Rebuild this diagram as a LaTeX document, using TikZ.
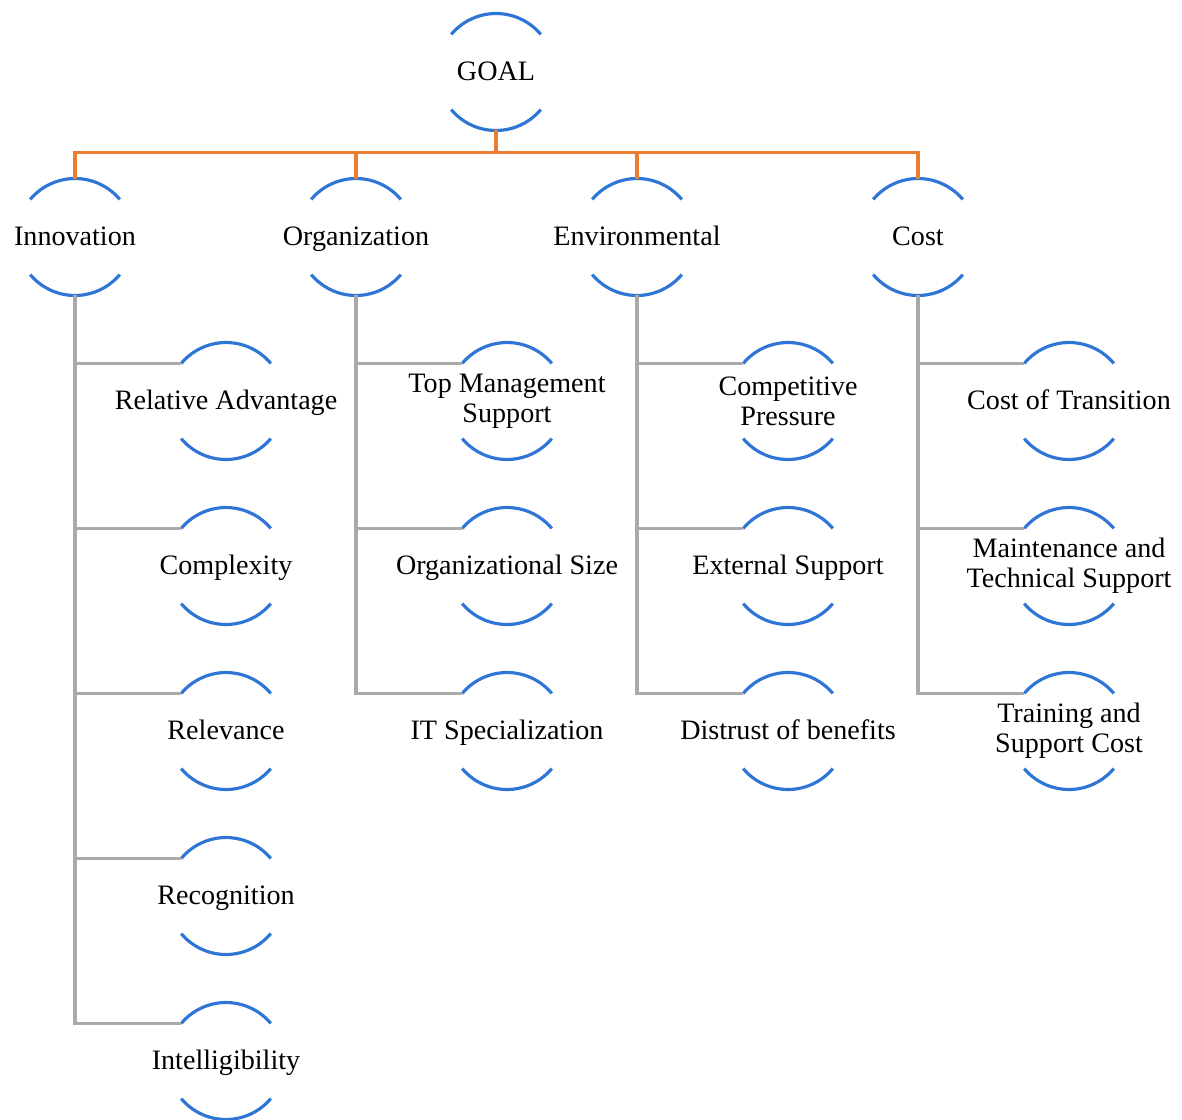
\documentclass[tikz,border=0pt]{standalone}
\usepackage{fontspec}
\setmainfont{Liberation Serif}
\usetikzlibrary{calc}

\definecolor{arcblue}{RGB}{46,117,214}
\definecolor{linkorange}{RGB}{237,125,49}
\definecolor{linkgray}{RGB}{170,170,170}

\tikzset{
  bubble/.style={inner sep=0pt, align=center, font=\fontsize{16}{17}\selectfont},
  oneline/.style={bubble, text height=10pt, text depth=0pt},
  arcline/.style={arcblue, line width=1.8pt},
  orangeline/.style={linkorange, line width=1.8pt},
  grayline/.style={linkgray, line width=1.8pt}
}

\begin{document}
\begin{tikzpicture}[x=0.02cm,y=0.02cm]
\useasboundingbox (0,0) rectangle (1182,-1119);

\node[oneline] (goal) at (496,-72) {GOAL};

\node[oneline] (inno) at (75,-237) {Innovation};
\node[oneline] (orga) at (356,-237) {Organization};
\node[oneline] (envi) at (637,-237) {Environmental};
\node[oneline] (cost) at (918,-237) {Cost};

%Innovation
\node[oneline] (reladv)  at (226,-401) {Relative Advantage};
\node[oneline] (complex) at (226,-566) {Complexity};
\node[oneline] (relev)   at (226,-731) {Relevance};
\node[oneline] (recog)   at (226,-896) {Recognition};
\node[oneline] (intell)  at (226,-1061) {Intelligibility};

%Organization
\node[bubble]  (topman)  at (507,-401) {Top Management\\Support};
\node[oneline] (orgsize) at (507,-566) {Organizational Size};
\node[oneline] (itspec)  at (507,-731) {IT Specialization};

%Environmental
\node[bubble]  (compet)  at (788,-401) {Competitive\\Pressure};
\node[oneline] (extsup)  at (788,-566) {External Support};
\node[oneline] (distr)   at (788,-731) {Distrust of benefits};

%Cost
\node[oneline] (costtr)  at (1069,-401) {Cost of Transition};
\node[bubble]  (maint)   at (1069,-566) {Maintenance and\\Technical Support};
\node[bubble]  (train)   at (1069,-731) {Training and\\Support Cost};

%Boegen
\foreach \n in {goal,inno,orga,envi,cost,reladv,complex,relev,recog,intell,
                topman,orgsize,itspec,compet,extsup,distr,costtr,maint,train}
{
  \draw[arcline] ([shift={(40:1.17cm)}]\n.center) arc (40:140:1.17cm);
  \draw[arcline] ([shift={(220:1.17cm)}]\n.center) arc (220:320:1.17cm);
}

%Verbindungen
\draw[orangeline] ([yshift=-1.17cm]goal.center) -- ++(0,-22) coordinate (hub);
\foreach \n in {inno,orga,envi,cost}
  \draw[orangeline] (hub) -| ([yshift=1.17cm]\n.center);

\foreach \p/\c in {inno/reladv,inno/complex,inno/relev,inno/recog,inno/intell,
                   orga/topman,orga/orgsize,orga/itspec,
                   envi/compet,envi/extsup,envi/distr,
                   cost/costtr,cost/maint,cost/train}
  \draw[grayline] ([yshift=-1.17cm]\p.center) |- ([shift={(140:1.17cm)}]\c.center);

\end{tikzpicture}
\end{document}
